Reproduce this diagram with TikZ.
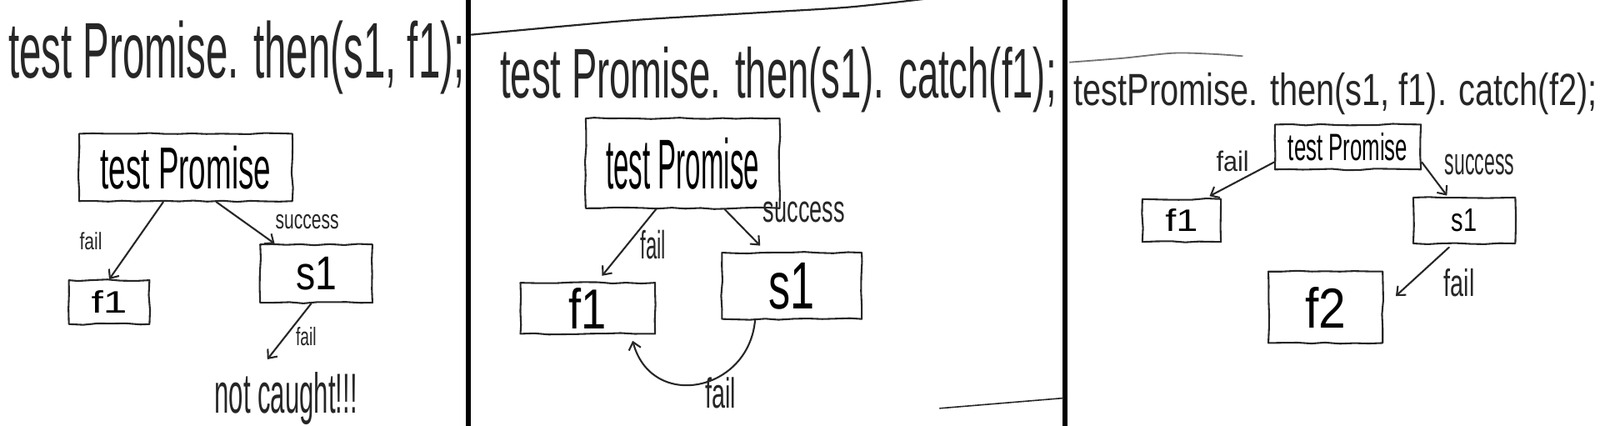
\documentclass[tikz,border=0pt]{standalone}
\usepackage{fontspec}
\setmainfont{Liberation Sans}
\usetikzlibrary{arrows.meta,decorations.pathmorphing}
\newcommand\hw[3]{\resizebox{#1pt}{#2pt}{#3}}
\begin{document}
\begin{tikzpicture}[x=1pt,y=-1pt,
  ink/.style={draw=black!85, line width=1.7pt, line cap=round, line join=round},
  hbox/.style={ink, inner sep=0pt, rectangle, decorate,
    decoration={random steps, segment length=14pt, amplitude=0.8pt}},
  txt/.style={inner sep=0pt, text=black!85},
  arr/.style={ink, -{Straight Barb[length=7pt,width=12pt]}},
  sep/.style={draw=black, line width=5pt}]
\useasboundingbox[fill=white] (0,0) rectangle (1568,417);

% separators
\draw[sep] (459,0) -- (459,417);
\draw[sep] (1044,0) -- (1044,417);
\draw[ink, line width=1.8pt] plot[smooth] coordinates {(462,34) (560,25) (631,19) (751,12) (832,7) (906,-1)};
\draw[draw=black!55, line width=1.5pt] plot[smooth] coordinates {(1048,61) (1100,57) (1150,52) (1190,53) (1218,55)};
\draw[ink, line width=1.3pt] (921,400) -- (1042,390);

% ---------- panel 1 ----------
\node[txt, anchor=base west] (t1) at (8,76) {\hw{447}{56}{test Promise. then(s1, f1);}};
\node[hbox, minimum width=209pt, minimum height=66pt] (tpA) at (182,164) {\hw{167}{42}{test Promise}};
\node[hbox, minimum width=79pt, minimum height=43pt] (fA) at (107,296) {\hw{35}{22}{f1}};
\node[hbox, minimum width=110pt, minimum height=57pt] (sA) at (310,268) {\hw{40}{32}{s1}};
\node[txt, anchor=base west] (ncA) at (210,405) {\hw{140}{40}{not caught!!!}};
\coordinate (ncEnd) at (262,352);
\draw[arr] ([xshift=-22pt]tpA.south) -- (fA.north);
\draw[arr] ([xshift=30pt]tpA.south) -- ([xshift=15pt]sA.north west);
\draw[arr] ([xshift=-5pt]sA.south) -- (ncEnd);
\node[txt] (lA1) at (89,236) {\hw{22}{17}{fail}};
\node[txt] (lA2) at (301,217) {\hw{62}{14}{success}};
\node[txt] (lA3) at (300,330) {\hw{20}{18}{fail}};

% ---------- panel 2 ----------
\node[txt, anchor=base west] (t2) at (490,96) {\hw{545}{50}{test Promise. then(s1). catch(f1);}};
\node[hbox, minimum width=190pt, minimum height=88pt] (tpB) at (669,160) {\hw{150}{50}{test Promise}};
\node[hbox, minimum width=132pt, minimum height=50pt] (fB) at (576,302) {\hw{37}{40}{f1}};
\node[hbox, minimum width=137pt, minimum height=65pt] (sB) at (776,280) {\hw{45}{45}{s1}};
\draw[arr] ([xshift=-26pt]tpB.south) -- ([xshift=14pt,yshift=6pt]fB.north);
\draw[arr] ([xshift=41pt]tpB.south) -- ([xshift=-31pt,yshift=6pt]sB.north);
\draw[arr] ([xshift=-36pt]sB.south) to[out=-95,in=-75,looseness=1.5] ([xshift=44pt,yshift=-6pt]fB.south);
\node[txt] (lB1) at (640,240) {\hw{25}{28}{fail}};
\node[txt] (lB2) at (788,208) {\hw{80}{20}{success}};
\node[txt] (lB3) at (706,385) {\hw{30}{30}{fail}};

% ---------- panel 3 ----------
\node[txt, anchor=base west] (t3) at (1052,103) {\hw{513}{32}{testPromise. then(s1, f1). catch(f2);}};
\node[hbox, minimum width=143pt, minimum height=44pt] (tpC) at (1321,144) {\hw{117}{27}{test Promise}};
\node[hbox, minimum width=77pt, minimum height=42pt] (fC) at (1158,216) {\hw{32}{22}{f1}};
\node[hbox, minimum width=100pt, minimum height=45pt] (sC) at (1435,216) {\hw{25}{22}{s1}};
\node[hbox, minimum width=112pt, minimum height=70pt] (f2C) at (1299,301) {\hw{40}{40}{f2}};
\draw[arr] ([yshift=8pt]tpC.south west) -- ([xshift=-12pt,yshift=2pt]fC.north east);
\draw[arr] ([yshift=8pt]tpC.south east) -- ([xshift=-17pt,yshift=1pt]sC.north);
\draw[arr] ([xshift=-15pt,yshift=-3pt]sC.south) -- ([xshift=12pt,yshift=11pt]f2C.east);
\node[txt] (lC1) at (1208,158) {\hw{32}{20}{fail}};
\node[txt] (lC2) at (1450,161) {\hw{68}{20}{success}};
\node[txt] (lC3) at (1430,277) {\hw{30}{27}{fail}};
\end{tikzpicture}
\end{document}
